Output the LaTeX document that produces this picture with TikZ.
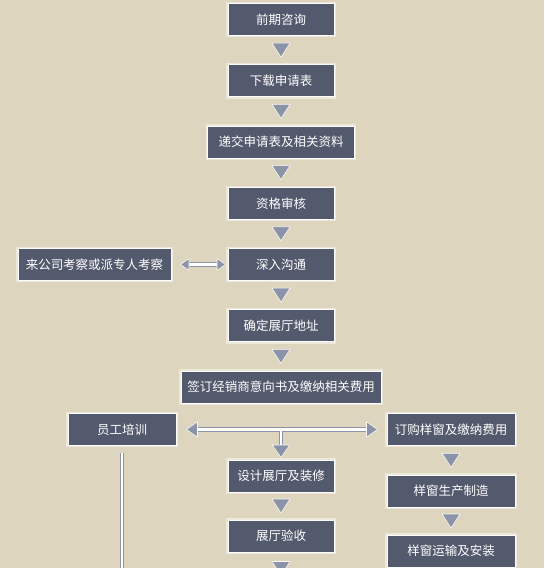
\documentclass[tikz,border=0pt]{standalone}
\usepackage{fontspec}
\newfontfamily\cjk{Noto Sans CJK SC}
\usetikzlibrary{decorations.markings}
\definecolor{bg}{HTML}{DED5BF}
\definecolor{boxfill}{HTML}{545A6D}
\definecolor{tipfill}{HTML}{8A93A8}

\tikzset{
  tipstyle/.style = {fill=tipfill, draw=white!85!bg, line width=0.6pt, line join=round},
  tri/.style = {decorate, decoration={markings, mark=at position 0.5 with
      {\filldraw[tipstyle] (-7pt,9pt) -- (7pt,0pt) -- (-7pt,-9pt) -- cycle;}}},
  dbl/.style = {draw=tipfill, line width=1.1pt, double=white, double distance=2.4pt},
  tipend/.style = {postaction={decorate, decoration={markings, mark=at position 1 with
      {\filldraw[tipstyle] (0pt,0pt) -- (-#1,0.7*#1) -- (-#1,-0.7*#1) -- cycle;}}}},
  tipstart/.style = {postaction={decorate, decoration={markings, mark=at position 0 with
      {\filldraw[tipstyle] (0pt,0pt) -- (#1,0.7*#1) -- (#1,-0.7*#1) -- cycle;}}}},
}

\begin{document}
\begin{tikzpicture}
	[node distance={61.25pt}, box/.style = {rectangle, fill=boxfill, draw=white!92!bg, line width=1pt,
	 preaction={draw=white!45!bg, line width=3.5pt}, text=white, inner sep=0pt,
	 minimum height=32pt, font=\cjk\fontsize{12.5}{14}\selectfont}]
	\fill[bg] (0,0) rectangle (544pt,-568pt);
	\useasboundingbox (0,0) rectangle (544pt,-568pt);
	\node[box, minimum width=106pt] (qq) at (281pt,-19.5pt) {前期咨询};
	\node[box, minimum width=106pt] (xz) [below of = qq] {下载申请表};
	\node[box, minimum width=147pt] (dj) [below of = xz] {递交申请表及相关资料};
	\node[box, minimum width=106pt] (zg) [below of = dj] {资格审核};
	\node[box, minimum width=106pt] (sr) [below of = zg] {深入沟通};
	\node[box, minimum width=153pt] (lg) [left of = sr, node distance=186.5pt] {来公司考察或派专人考察};
	\node[box, minimum width=106pt] (qd) [below of = sr] {确定展厅地址};
	\node[box, minimum width=200pt] (qy) [below of = qd] {签订经销商意向书及缴纳相关费用};
	\node[box, minimum width=108pt] (yg) at (122pt,-429.5pt) {员工培训};
	\node[box, minimum width=128pt] (dg) at (451pt,-429.5pt) {订购样窗及缴纳费用};
	\node[box, minimum width=106pt] (sj) [below of = qy, node distance=89pt] {设计展厅及装修};
	\node[box, minimum width=106pt] (ys) [below of = sj, node distance=60pt] {展厅验收};
	\node[box, minimum width=128pt] (sc) [below of = dg, node distance=61.5pt] {样窗生产制造};
	\node[box, minimum width=128pt] (az) [below of = sc, node distance=60pt] {样窗运输及安装};
	\coordinate (fork) at (sj.north |- yg.east);
	\coordinate (ysnext) at ([yshift=-32pt]ys.south);
	\coordinate (ygend) at (yg.south |- 0,-568pt);
	% single steps
	\path[tri] (qq) -- (xz);
	\path[tri] (xz) -- (dj);
	\path[tri] (dj) -- (zg);
	\path[tri] (zg) -- (sr);
	\path[tri] (sr) -- (qd);
	\path[tri] (qd) -- (qy);
	\path[tri] (sj) -- (ys);
	\path[tri] (ys) -- (ysnext);
	\path[tri] (dg) -- (sc);
	\path[tri] (sc) -- (az);
	% double lines
	\draw[dbl, shorten <=6pt, shorten >=6pt, tipstart=8.5pt, tipend=8.5pt] ([xshift=9pt]lg.east) -- ([xshift=-2pt]sr.west);
	\draw[dbl, shorten <=8pt, shorten >=8pt, tipstart=11pt, tipend=11pt] ([xshift=10pt]yg.east) -- ([xshift=-9pt]dg.west);
	\draw[dbl, shorten >=9pt, tipend=12.5pt] ([yshift=-1pt]fork) -- ([yshift=2pt]sj.north);
	\draw[dbl] ([yshift=-7pt]yg.south) -- (ygend);
\end{tikzpicture}
\end{document}
